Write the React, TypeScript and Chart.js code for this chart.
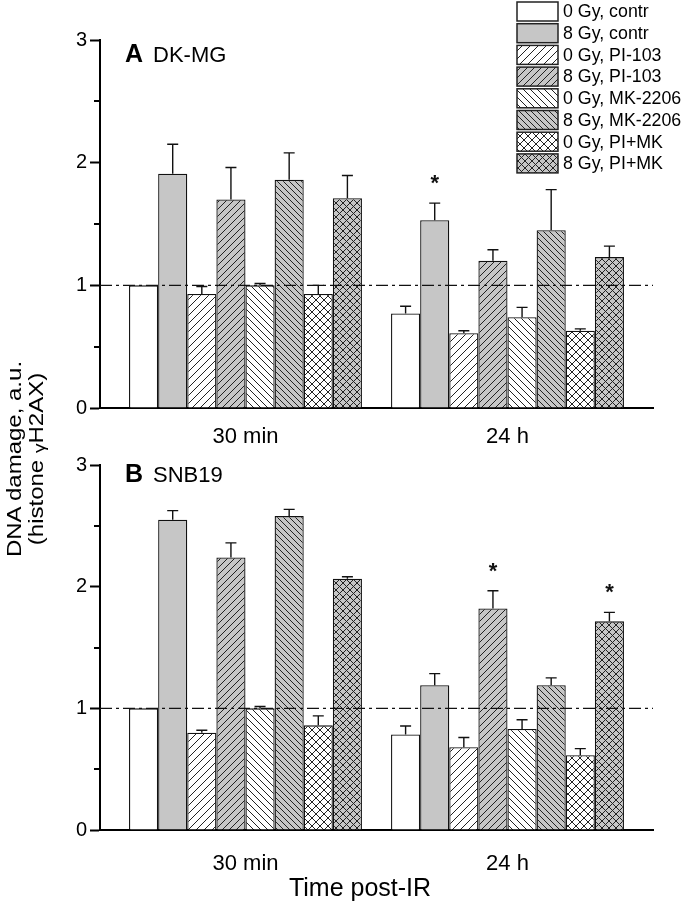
import React, { useEffect, useRef } from 'react';
import { Chart, registerables } from 'chart.js';
Chart.register(...registerables);

// ---------------- data ----------------
const categories = ['30 min', '24 h'];
const seriesLabels = [
  '0 Gy, contr', '8 Gy, contr',
  '0 Gy, PI-103', '8 Gy, PI-103',
  '0 Gy, MK-2206', '8 Gy, MK-2206',
  '0 Gy, PI+MK', '8 Gy, PI+MK',
];
// per series: [30 min, 24 h]
const dkmgMeans = [
  [1.0, 0.77], [1.91, 1.53], [0.93, 0.61], [1.70, 1.20],
  [1.0, 0.74], [1.86, 1.45], [0.93, 0.63], [1.71, 1.23],
];
const dkmgErrors = [
  [0, 0.06], [0.24, 0.14], [0.06, 0.02], [0.26, 0.09],
  [0.015, 0.08], [0.22, 0.33], [0.07, 0.015], [0.185, 0.09],
];
const snb19Means = [
  [1.0, 0.785], [2.55, 1.19], [0.80, 0.68], [2.24, 1.82],
  [1.0, 0.83], [2.58, 1.19], [0.86, 0.615], [2.065, 1.715],
];
const snb19Errors = [
  [0, 0.07], [0.075, 0.095], [0.02, 0.08], [0.12, 0.147],
  [0.015, 0.076], [0.055, 0.06], [0.078, 0.054], [0.016, 0.074],
];
// significance marks: [series index, category index]
const dkmgStars = [[1, 1]];
const snb19Stars = [[3, 1], [7, 1]];
const yTickValues = [0, 0.5, 1, 1.5, 2, 2.5, 3];
const referenceLevel = 1;
const xAxisTitle = 'Time post-IR';

// ---------------- styles ----------------
const FONT = '"Liberation Sans", Arial, Helvetica, sans-serif';
const INK = '#111111';
const GRAY = '#c6c6c6';
const seriesBg = ['#ffffff', GRAY, '#ffffff', GRAY, '#ffffff', GRAY, '#ffffff', GRAY];
const seriesHatch = ['none', 'none', 'fwd', 'fwd', 'back', 'back', 'cross', 'cross'];
const hatchSpacing = [0, 0, 8, 7, 7, 6, 8, 7];

function makeFill(hatch: string, p: number, bg: string): any {
  if (hatch === 'none') return bg;
  const c = document.createElement('canvas');
  c.width = p; c.height = p;
  const g = c.getContext('2d')!;
  g.fillStyle = bg; g.fillRect(0, 0, p, p);
  g.strokeStyle = '#222'; g.lineWidth = 1;
  g.beginPath();
  if (hatch === 'fwd' || hatch === 'cross') {
    g.moveTo(-1, p + 1); g.lineTo(p + 1, -1);
    g.moveTo(-1, 1); g.lineTo(1, -1);
    g.moveTo(p - 1, p + 1); g.lineTo(p + 1, p - 1);
  }
  if (hatch === 'back' || hatch === 'cross') {
    g.moveTo(-1, -1); g.lineTo(p + 1, p + 1);
    g.moveTo(p - 1, -1); g.lineTo(p + 1, 1);
    g.moveTo(-1, p - 1); g.lineTo(1, p + 1);
  }
  g.stroke();
  return g.createPattern(c, 'repeat');
}

const extrasPlugin = {
  id: 'panelExtras',
  afterDatasetsDraw(chart: any, _args: any, opts: any) {
    const { ctx, chartArea } = chart;
    const y = chart.scales.y;
    ctx.save();
    // reference dash-dot line
    ctx.strokeStyle = INK;
    ctx.lineWidth = 1.2;
    ctx.setLineDash([12, 4, 3, 4]);
    const yr = y.getPixelForValue(referenceLevel);
    ctx.beginPath();
    ctx.moveTo(chartArea.left, yr);
    ctx.lineTo(chartArea.right, yr);
    ctx.stroke();
    ctx.setLineDash([]);
    // error bars
    ctx.lineWidth = 1.4;
    chart.data.datasets.forEach((ds: any, di: number) => {
      const meta = chart.getDatasetMeta(di);
      meta.data.forEach((bar: any, ci: number) => {
        const err = ds.errors[ci];
        if (!err) return;
        const v = ds.data[ci].y;
        const base = y.getPixelForValue(v);
        const top = y.getPixelForValue(v + err);
        ctx.beginPath();
        ctx.moveTo(bar.x, base);
        ctx.lineTo(bar.x, top);
        ctx.moveTo(bar.x - 5.5, top);
        ctx.lineTo(bar.x + 5.5, top);
        ctx.stroke();
      });
    });
    // significance stars
    ctx.fillStyle = INK;
    ctx.font = `bold 22px ${FONT}`;
    ctx.textAlign = 'center';
    ctx.textBaseline = 'alphabetic';
    (opts.stars || []).forEach(([si, ci]: number[]) => {
      const ds = chart.data.datasets[si];
      const bar = chart.getDatasetMeta(si).data[ci];
      const top = y.getPixelForValue(ds.data[ci].y + ds.errors[ci]);
      ctx.fillText('*', bar.x, top - 21 + 8);
    });
    ctx.restore();
  },
  afterDraw(chart: any, _args: any, opts: any) {
    const { ctx, chartArea } = chart;
    const y = chart.scales.y;
    ctx.save();
    // minor ticks
    ctx.strokeStyle = '#000';
    ctx.lineWidth = 2;
    y.ticks.forEach((t: any) => {
      if (Number.isInteger(t.value)) return;
      const py = Math.round(y.getPixelForValue(t.value));
      ctx.beginPath();
      ctx.moveTo(chartArea.left - 6, py);
      ctx.lineTo(chartArea.left, py);
      ctx.stroke();
    });
    // panel label
    ctx.fillStyle = '#000';
    ctx.textAlign = 'left';
    ctx.textBaseline = 'alphabetic';
    ctx.font = `bold 25px ${FONT}`;
    ctx.fillText(opts.letter, opts.labelX, opts.labelBaseline);
    ctx.font = `22px ${FONT}`;
    ctx.fillText(opts.name, opts.nameX, opts.labelBaseline);
    // axis title (bottom panel only)
    if (opts.xTitle) {
      ctx.font = `25px ${FONT}`;
      ctx.textAlign = 'center';
      ctx.textBaseline = 'middle';
      ctx.fillText(opts.xTitle, opts.xTitleX, opts.xTitleY);
    }
    // legend
    if (opts.legend) {
      const L = opts.legend;
      ctx.font = `17.8px ${FONT}`;
      ctx.textAlign = 'left';
      ctx.textBaseline = 'middle';
      chart.data.datasets.forEach((ds: any, i: number) => {
        const by = L.y + i * L.row;
        ctx.fillStyle = ds.backgroundColor;
        ctx.fillRect(L.x, by, L.w, L.h);
        ctx.strokeStyle = '#222';
        ctx.lineWidth = 1.5;
        ctx.strokeRect(L.x, by, L.w, L.h);
        ctx.fillStyle = '#000';
        ctx.fillText(ds.label, L.x + L.w + 5, by + L.h / 2 + 1);
      });
    }
    ctx.restore();
  },
};

interface PanelProps {
  means: number[][];
  errors: number[][];
  stars: number[][];
  letter: string;
  name: string;
  top: number;
  height: number;
  padTop: number;
  xAxisHeight: number;
  labelPad: number;
  labelBaseline: number;
  legend?: boolean;
  xTitle?: string;
}

function Panel(p: PanelProps) {
  const ref = useRef<HTMLCanvasElement>(null);
  useEffect(() => {
    const canvas = ref.current!;
    const datasets = seriesLabels.map((label, i) => ({
      label,
      data: categories.map((_, c) => ({ x: c, y: p.means[i][c] })),
      errors: p.errors[i],
      backgroundColor: makeFill(seriesHatch[i], hatchSpacing[i], seriesBg[i]),
      borderColor: INK,
      borderWidth: 1.3,
      borderSkipped: 'bottom',
      categoryPercentage: 0.889,
      barPercentage: 1,
    }));
    const chart = new Chart(canvas, {
      type: 'bar',
      data: { datasets } as any,
      plugins: [extrasPlugin],
      options: {
        responsive: false,
        animation: false,
        devicePixelRatio: 1,
        layout: { padding: { top: p.padTop, right: 32, left: 0, bottom: 0 } },
        plugins: {
          legend: { display: false },
          tooltip: { enabled: false },
          panelExtras: {
            stars: p.stars,
            letter: p.letter,
            name: p.name,
            labelX: 125,
            nameX: 153,
            labelBaseline: p.labelBaseline,
            xTitle: p.xTitle || null,
            xTitleX: 360,
            xTitleY: 439,
            legend: p.legend ? { x: 517, y: 2, w: 41, h: 19, row: 21.7 } : null,
          },
        } as any,
        scales: {
          x: {
            type: 'linear',
            offset: false,
            min: -0.5553,
            max: 1.5553,
            afterBuildTicks: (s: any) => { s.ticks = categories.map((_, i) => ({ value: i })); },
            afterFit: (s: any) => { s.height = p.xAxisHeight; },
            grid: { display: false, drawTicks: false, offset: false },
            border: { display: true, width: 2, color: '#000' },
            ticks: {
              autoSkip: false,
              maxRotation: 0,
              padding: p.labelPad,
              color: '#000',
              font: { family: FONT, size: 22 },
              callback: (v: any) => categories[v as number] ?? '',
            },
          },
          y: {
            type: 'linear',
            min: 0,
            max: 3,
            afterBuildTicks: (s: any) => { s.ticks = yTickValues.map((v) => ({ value: v })); },
            afterFit: (s: any) => { s.width = 100; },
            grid: {
              drawOnChartArea: false,
              drawTicks: true,
              tickLength: 10,
              tickWidth: 2,
              tickColor: (c: any) => (c.tick && Number.isInteger(c.tick.value) ? '#000' : 'rgba(0,0,0,0)'),
            },
            border: { display: true, width: 2, color: '#000' },
            ticks: {
              padding: 3,
              color: '#000',
              font: { family: FONT, size: 20 },
              callback: (v: any) => (Number.isInteger(v) ? String(v) : ''),
            },
          },
        },
      } as any,
    });
    return () => chart.destroy();
  }, []);
  return (
    <canvas
      ref={ref}
      width={685}
      height={p.height}
      style={{ position: 'absolute', left: 0, top: p.top, width: 685, height: p.height }}
    />
  );
}

export default function App() {
  const titleStyle = (cx: number): React.CSSProperties => ({
    position: 'absolute',
    left: cx - 120,
    top: 459 - 15,
    width: 240,
    height: 30,
    lineHeight: '30px',
    textAlign: 'center',
    fontFamily: FONT,
    fontSize: 24,
    color: '#000',
    whiteSpace: 'nowrap',
    transform: 'rotate(-90deg) scale(1, 0.85)',
  });
  return (
    <div style={{ position: 'absolute', left: 0, top: 0, width: 685, height: 908, background: '#fff', overflow: 'hidden' }}>
      <Panel
        means={dkmgMeans}
        errors={dkmgErrors}
        stars={dkmgStars}
        letter="A"
        name="DK-MG"
        top={0}
        height={450}
        padTop={40}
        xAxisHeight={42}
        labelPad={16}
        labelBaseline={61.7}
        legend
      />
      <Panel
        means={snb19Means}
        errors={snb19Errors}
        stars={snb19Stars}
        letter="B"
        name="SNB19"
        top={450}
        height={458}
        padTop={12}
        xAxisHeight={78}
        labelPad={21}
        labelBaseline={31.7}
        xTitle={xAxisTitle}
      />
      <div style={titleStyle(14)}>DNA damage, a.u.</div>
      <div style={titleStyle(36)}>
        (histone <span style={{ fontSize: '0.8em', verticalAlign: '-0.15em' }}>γ</span>H2AX)
      </div>
    </div>
  );
}
